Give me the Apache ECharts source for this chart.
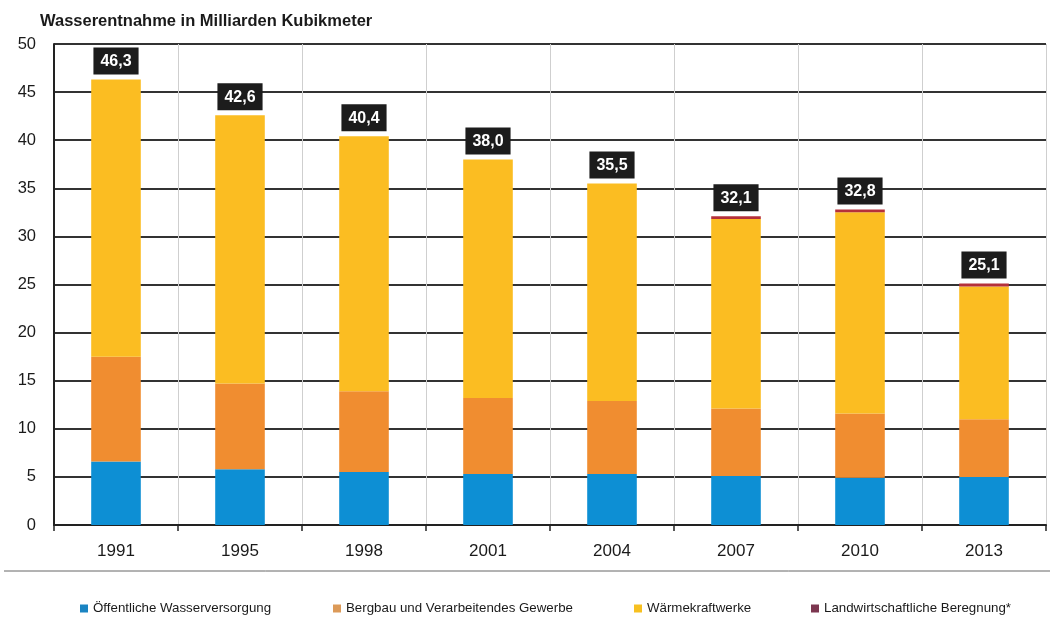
<!DOCTYPE html>
<html>
<head>
<meta charset="utf-8">
<script src="https://cdn.jsdelivr.net/npm/echarts@6/dist/echarts.min.js"></script>
<style>
  html, body { margin: 0; padding: 0; background: #fff; }
  #chart { width: 1054px; height: 619px; }
</style>
</head>
<body>
<div id="chart"></div>
<script>
// Wasserentnahme in Deutschland, Milliarden Kubikmeter
const years = ['1991', '1995', '1998', '2001', '2004', '2007', '2010', '2013'];
const oeffentlich = [6.6, 5.8, 5.5, 5.3, 5.3, 5.1, 4.9, 5.0];
const bergbau = [10.9, 8.9, 8.4, 7.9, 7.6, 7.0, 6.7, 6.0];
const waermekraft = [28.8, 27.9, 26.5, 24.8, 22.6, 19.7, 20.9, 13.8];
const beregnung = [0, 0, 0, 0, 0, 0.3, 0.3, 0.3];
const yTicks = [0, 5, 10, 15, 20, 25, 30, 35, 40, 45, 50];

const seriesNames = [
  'Öffentliche Wasserversorgung',
  'Bergbau und Verarbeitendes Gewerbe',
  'Wärmekraftwerke',
  'Landwirtschaftliche Beregnung*'
];
const barColors = ['#0d8fd4', '#f08d30', '#fbbd22', '#b5303a'];
const legendColors = ['#1a84c2', '#dc9a58', '#f7c020', '#7c3650'];
const legendLeft = [75, 328, 629, 806];

// stack totals shown in the dark boxes above the bars
const totals = years.map((_, i) =>
  Math.round((oeffentlich[i] + bergbau[i] + waermekraft[i] + beregnung[i]) * 10) / 10);

const FONT = '"Liberation Sans", Arial, Helvetica, sans-serif';

const chart = echarts.init(document.getElementById('chart'), null, { renderer: 'canvas' });

const stackData = [oeffentlich, bergbau, waermekraft, beregnung];

const series = stackData.map((d, k) => ({
  name: seriesNames[k],
  type: 'bar',
  stack: 'total',
  barWidth: '40%',
  data: d,
  itemStyle: { color: barColors[k] },
  emphasis: { disabled: true }
}));

series.push({
  name: 'Summe',
  type: 'scatter',
  data: totals,
  symbolSize: 0,
  silent: true,
  z: 10,
  itemStyle: { opacity: 1 },
  label: {
    show: true,
    position: 'top',
    distance: 5,
    formatter: p => p.value.toFixed(1).replace('.', ','),
    color: '#ffffff',
    fontFamily: FONT,
    fontWeight: 'bold',
    fontSize: 16,
    lineHeight: 18,
    backgroundColor: '#1c1c1c',
    padding: [5, 7, 4, 7]
  }
});

const legends = seriesNames.map((n, k) => ({
  left: legendLeft[k],
  top: 597,
  orient: 'horizontal',
  icon: 'rect',
  itemWidth: 8,
  itemHeight: 8,
  itemGap: 5,
  selectedMode: false,
  textStyle: { fontFamily: FONT, fontSize: 13.3, color: '#1a1a1a' },
  data: [{ name: n, itemStyle: { color: legendColors[k] } }]
}));

chart.setOption({
  animation: false,
  backgroundColor: '#ffffff',
  title: {
    text: 'Wasserentnahme in Milliarden Kubikmeter',
    left: 35,
    top: 8,
    textStyle: { fontFamily: FONT, fontWeight: 'bold', fontSize: 16.5, color: '#1a1a1a' }
  },
  legend: legends,
  grid: { left: 54, right: 8, top: 44, bottom: 94, containLabel: false },
  xAxis: {
    type: 'category',
    data: years,
    boundaryGap: true,
    axisLine: { show: true, lineStyle: { color: '#222', width: 2 } },
    axisTick: { show: true, alignWithLabel: false, length: 6, lineStyle: { color: '#222', width: 1.5 } },
    axisLabel: { fontFamily: FONT, fontSize: 17, color: '#1a1a1a', margin: 18 },
    splitLine: { show: true, lineStyle: { color: '#cfcfcf', width: 1 } }
  },
  yAxis: {
    type: 'value',
    min: yTicks[0],
    max: yTicks[yTicks.length - 1],
    interval: yTicks[1] - yTicks[0],
    axisLine: { show: true, lineStyle: { color: '#222', width: 2 } },
    axisTick: { show: false },
    axisLabel: { fontFamily: FONT, fontSize: 16.5, color: '#1a1a1a', margin: 18 },
    splitLine: { show: true, lineStyle: { color: '#333', width: 2 } }
  },
  series: series,
  graphic: [{
    type: 'line',
    shape: { x1: 4, y1: 571, x2: 1050, y2: 571 },
    style: { stroke: '#666', lineWidth: 1 },
    silent: true
  }]
});
</script>
</body>
</html>
